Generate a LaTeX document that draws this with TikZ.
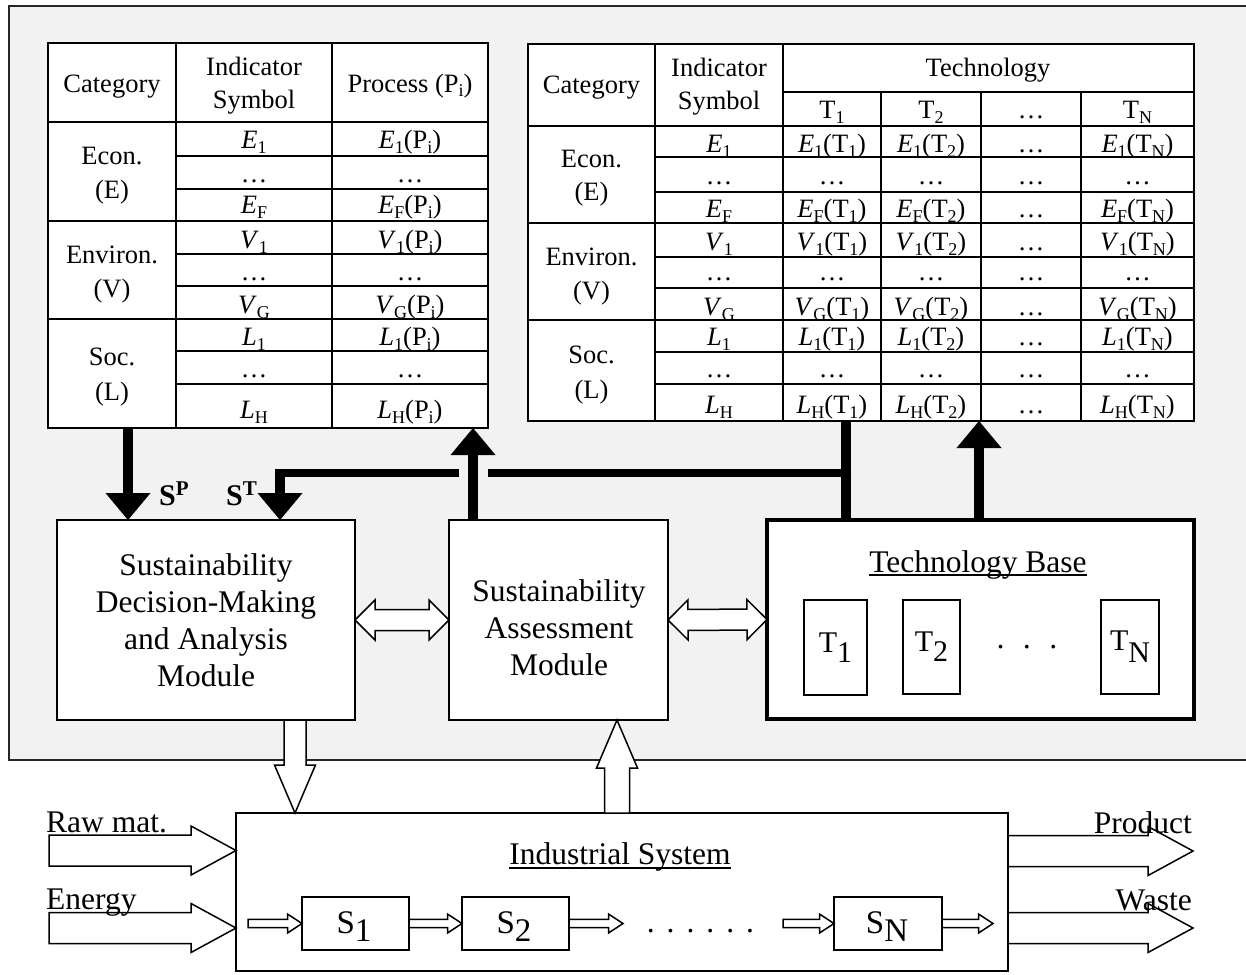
\documentclass[tikz,border=0pt]{standalone}
\usepackage{fontspec}
\setmainfont{Liberation Serif}
\usetikzlibrary{arrows.meta,calc}
\definecolor{bggray}{RGB}{242,242,242}
\newcounter{cn}
\newcommand\MainSz{\fontsize{31.5}{37}\selectfont}
\newcommand\TabSz{\fontsize{26.5}{32}\selectfont}
\newcommand\Sub[1]{\raisebox{-5pt}{\fontsize{18}{18}\selectfont #1}}
\newcommand\Lo[2]{\raisebox{-#1}{#2}}
\tikzset{
  box/.style={draw, fill=white, line width=1.5pt, inner sep=0pt, outer sep=0pt},
  cell/.style={anchor=base, inner sep=0pt, font=\TabSz},
  tline/.style={line width=1.5pt},
  thickarrow/.style={line width=10pt, -{Triangle[width=45pt,length=27pt,line width=0pt]}},
  blockstyle/.style={draw, fill=white, line width=1.5pt, line join=miter},
  label/.style={inner sep=0pt, font=\MainSz},
  stext/.style={anchor=base, inner sep=0pt, font=\fontsize{33}{33}\selectfont},
}
\newcommand\cellat[3]{\stepcounter{cn}\node[cell] (cell\arabic{cn}) at (#1,#2) {#3};}
\newcommand\blockarrow[5]{%
  \path (#1) coordinate (baS) (#2) coordinate (baT);
  \path ($(baT)!#5!(baS)$) coordinate (baH);
  \draw[blockstyle] ($(baS)!#3!90:(baT)$) -- ($(baH)!#3!90:(baT)$) -- ($(baH)!#4!90:(baT)$) -- (baT) -- ($(baH)!#4!-90:(baT)$) -- ($(baH)!#3!-90:(baT)$) -- ($(baS)!#3!-90:(baT)$) -- cycle;}
\newcommand\dblockarrow[5]{%
  \path (#1) coordinate (baS) (#2) coordinate (baT);
  \path ($(baT)!#5!(baS)$) coordinate (baH) ($(baS)!#5!(baT)$) coordinate (baG);
  \draw[blockstyle] (baS) -- ($(baG)!#4!90:(baT)$) -- ($(baG)!#3!90:(baT)$) -- ($(baH)!#3!90:(baT)$) -- ($(baH)!#4!90:(baT)$) -- (baT) -- ($(baH)!#4!-90:(baT)$) -- ($(baH)!#3!-90:(baT)$) -- ($(baG)!#3!-90:(baT)$) -- ($(baG)!#4!-90:(baT)$) -- cycle;}
\newcommand\prow[2]{\cellat{254}{#1}{#2}\cellat{410}{#1}{#2(P\Sub{i})}}
\newcommand\pdots[1]{\cellat{254}{#1}{…}\cellat{410}{#1}{…}}
\newcommand\trow[2]{\cellat{719}{#1}{#2}\cellat{832}{#1}{#2(T\Sub{1})}\cellat{931}{#1}{#2(T\Sub{2})}\cellat{1031}{#1}{…}\cellat{1137.5}{#1}{#2(T\Sub{N})}}
\newcommand\tdots[1]{\cellat{719}{#1}{…}\cellat{832}{#1}{…}\cellat{931}{#1}{…}\cellat{1031}{#1}{…}\cellat{1137.5}{#1}{…}}
\begin{document}
\begin{tikzpicture}[x=1pt,y=-1pt]
\useasboundingbox (0,0) rectangle (1246,974);
\draw[line width=1.5pt, draw=black!85, fill=bggray] (9,6) rectangle (1262,760);

% ---------- left table (process)
\node[box, anchor=north west, minimum width=440pt, minimum height=385pt] (ptab) at (48,43) {};
\draw[tline] (176,43) -- (176,428) (332,43) -- (332,428);
\foreach \y in {122,221,319} \draw[tline] (48,\y) -- (488,\y);
\foreach \y in {156,189,254,286,351,384} \draw[tline] (176,\y) -- (488,\y);
\cellat{112}{92}{Category}
\cellat{254}{75}{Indicator}
\cellat{254}{108}{Symbol}
\cellat{410}{92}{Process (P\Sub{i})}
\cellat{112}{164}{Econ.}\cellat{112}{198}{(E)}
\cellat{112}{263}{Environ.}\cellat{112}{297}{(V)}
\cellat{112}{365}{Soc.}\cellat{112}{400}{(L)}
\prow{148}{\textit{E}\Sub{1}}
\pdots{182}
\prow{213}{\textit{E}\Sub{F}}
\prow{248}{\textit{V}\Sub{1}}
\pdots{280}
\prow{313}{\textit{V}\Sub{G}}
\prow{345}{\textit{L}\Sub{1}}
\pdots{377}
\prow{418}{\textit{L}\Sub{H}}

% ---------- right table (technology)
\node[box, anchor=north west, minimum width=666pt, minimum height=377pt] (ttab) at (528,44) {};
\draw[tline] (655,44) -- (655,421) (783,44) -- (783,421);
\foreach \x in {881,981,1081} \draw[tline] (\x,92) -- (\x,421);
\draw[tline] (783,92) -- (1194,92);
\foreach \y in {126,223,320} \draw[tline] (528,\y) -- (1194,\y);
\foreach \y in {157,192,257,288,352,384} \draw[tline] (655,\y) -- (1194,\y);
\cellat{591.5}{93}{Category}
\cellat{719}{77}{Indicator}
\cellat{719}{109}{Symbol}
\cellat{988}{77}{Technology}
\cellat{832}{118}{T\Sub{1}}
\cellat{931}{118}{T\Sub{2}}
\cellat{1031}{118}{…}
\cellat{1137.5}{118}{T\Sub{N}}
\cellat{591.5}{167}{Econ.}\cellat{591.5}{200}{(E)}
\cellat{591.5}{265}{Environ.}\cellat{591.5}{299}{(V)}
\cellat{591.5}{363}{Soc.}\cellat{591.5}{398}{(L)}
\trow{152}{\textit{E}\Sub{1}}
\tdots{184}
\trow{217}{\textit{E}\Sub{F}}
\trow{250}{\textit{V}\Sub{1}}
\tdots{280}
\trow{315}{\textit{V}\Sub{G}}
\trow{345}{\textit{L}\Sub{1}}
\tdots{377}
\trow{413}{\textit{L}\Sub{H}}

% ---------- modules
\node[box, minimum width=298pt, minimum height=200pt, align=center, font=\MainSz] (sdm) at (206,620)
  {Sustainability\\Decision-Making\\and Analysis\\Module};
\node[box, minimum width=219pt, minimum height=200pt] (sa) at (558.5,620) {};
\node[label, align=center] (sat) at (559,628) {Sustainability\\Assessment\\Module};
\node[box, line width=3.5pt, minimum width=427pt, minimum height=199pt] (tb) at (980.5,619.5) {};
\node[label, anchor=base] (tbt) at (978,572) {Technology Base};
\draw[line width=1.5pt] ([yshift=-3pt]tbt.base west) -- ([yshift=-3pt]tbt.base east);
\node[box, minimum width=63pt, minimum height=95pt, font=\fontsize{30}{30}\selectfont] (t1) at (835.5,647.5) {T\Lo{10pt}{1}};
\node[box, minimum width=57pt, minimum height=94pt, font=\fontsize{30}{30}\selectfont] (t2) at (931.5,647) {T\Lo{10pt}{2}};
\node[box, minimum width=58pt, minimum height=94pt, font=\fontsize{30}{30}\selectfont] (tn) at (1130,647) {T\Lo{12pt}{N}};
\node[label] (tdots) at (1027,651) {·\hspace{16pt}·\hspace{16pt}·};

% ---------- thick black connectors
\coordinate (xp) at (128,0);
\coordinate (xa) at (473,0);
\coordinate (xt) at (846,0);
\coordinate (xu) at (979,0);
\coordinate (jn) at (846,472.5);
\coordinate (gapR) at (488,472.5);
\coordinate (gapL) at (459,472.5);
\coordinate (cr) at (280,472.5);
\draw[thickarrow] (xp |- ptab.south) -- (xp |- sdm.north);
\draw[thickarrow] (xa |- sa.north) -- (xa |- ptab.south);
\draw[line width=10pt] (xt |- ttab.south) -- (xt |- tb.north);
\draw[thickarrow] (xu |- tb.north) -- (xu |- ttab.south);
\draw[line width=8pt] ([xshift=5pt]jn) -- (gapR);
\draw[line width=8pt] (gapL) -- ([xshift=-5pt]cr);
\draw[thickarrow] ([yshift=4pt]cr) -- (cr |- sdm.north);
\node[anchor=base west, inner sep=0pt, font=\bfseries\fontsize{30}{30}\selectfont] (sp) at (159,505) {S\textsuperscript{P}};
\node[anchor=base west, inner sep=0pt, font=\bfseries\fontsize{30}{30}\selectfont] (st) at (226,505) {S\textsuperscript{T}};

% ---------- hollow connectors between modules
\dblockarrow{sdm.east}{sa.west}{10.5pt}{20pt}{20pt}
\dblockarrow{sa.east}{tb.west}{10.5pt}{20pt}{20pt}

% ---------- industrial system
\node[box, minimum width=772pt, minimum height=158pt] (is) at (622,892) {};
\node[label, anchor=base] (ist) at (620,864) {Industrial System};
\draw[line width=1.5pt] ([yshift=-4pt]ist.base west) -- ([yshift=-4pt]ist.base east);
\node[box, minimum width=107pt, minimum height=53pt] (s1) at (355.5,923.5) {};
\node[box, minimum width=107pt, minimum height=53pt] (s2) at (515.5,923.5) {};
\node[box, minimum width=108pt, minimum height=53pt] (sn) at (888,923.5) {};
\node[stext] (s1t) at (354,933) {S\Lo{8pt}{1}};
\node[stext] (s2t) at (514,933) {S\Lo{8pt}{2}};
\node[stext] (snt) at (887,933) {S\Lo{8pt}{N}};
\node[label, anchor=base] (idots) at (700.5,932) {.\hspace{12pt}.\hspace{12pt}.\hspace{12pt}.\hspace{12pt}.\hspace{12pt}.};
\coordinate (sin) at (248,923.5);
\coordinate (d1) at (623,923.5);
\coordinate (d2) at (783,923.5);
\coordinate (sout) at (993,923.5);
\blockarrow{sin}{s1.west}{4.2pt}{9.5pt}{14.5pt}
\blockarrow{s1.east}{s2.west}{4.2pt}{9.5pt}{14.5pt}
\blockarrow{s2.east}{d1}{4.2pt}{9.5pt}{14.5pt}
\blockarrow{d2}{sn.west}{4.2pt}{9.5pt}{14.5pt}
\blockarrow{sn.east}{sout}{4.2pt}{9.5pt}{14.5pt}

% ---------- vertical hollow arrows
\coordinate (x1) at (295,0);
\coordinate (x2) at (617,0);
\blockarrow{x1 |- sdm.south}{x1 |- is.north}{11pt}{20.5pt}{48pt}
\blockarrow{x2 |- is.north}{x2 |- sa.south}{12.5pt}{20.5pt}{48pt}

% ---------- inputs / outputs
\coordinate (rawin) at (49,850.5);
\coordinate (enin) at (49,928);
\coordinate (prodout) at (1193,851);
\coordinate (wasteout) at (1193,928);
\blockarrow{rawin}{rawin -| is.west}{15.5pt}{24.5pt}{45pt}
\blockarrow{enin}{enin -| is.west}{15.5pt}{24.5pt}{45pt}
\blockarrow{prodout -| is.east}{prodout}{15.5pt}{24.5pt}{45pt}
\blockarrow{wasteout -| is.east}{wasteout}{15.5pt}{24.5pt}{45pt}
\node[label, anchor=base west] (lraw) at (46,832) {Raw mat.};
\node[label, anchor=base west] (len) at (46,909) {Energy};
\node[label, anchor=base east] (lprod) at (1192,833) {Product};
\node[label, anchor=base east] (lwaste) at (1192,910) {Waste};
\end{tikzpicture}
\end{document}
